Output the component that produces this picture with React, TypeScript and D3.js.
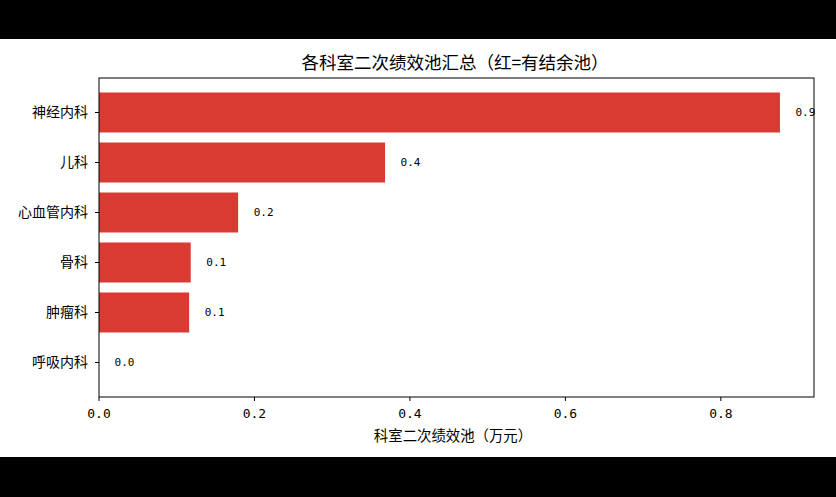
import React from "react";
import * as d3 from "d3";

const departments = ["神经内科", "儿科", "心血管内科", "骨科", "肿瘤科", "呼吸内科"];
const poolValues = [0.876, 0.368, 0.179, 0.118, 0.116, 0.0];
const xTicks = [0, 0.2, 0.4, 0.6, 0.8];
const titleText = "各科室二次绩效池汇总（红=有结余池）";
const xLabelText = "科室二次绩效池（万元）";

const W = 836;
const H = 497;
const FONT = "'Noto Sans CJK SC', 'DejaVu Sans', sans-serif";

export default function App() {
  const left = 99, right = 814, top = 78, bottom = 397;
  const maxV = d3.max(poolValues) as number;
  const x = d3.scaleLinear().domain([0, maxV * 1.05]).range([left, right]);
  const n = departments.length;
  const y = d3.scaleLinear().domain([-0.69, n - 1 + 0.69]).range([top, bottom]);
  const barH = y(0.4) - y(0);
  const offset = x(0.02) - x(0);

  return (
    <div style={{ position: "fixed", left: 0, top: 0, width: W, height: H }}>
      <svg width={W} height={H} style={{ display: "block" }} fontFamily={FONT}>
        <rect x={0} y={0} width={W} height={H} fill="#000" />
        <rect x={0} y={39} width={W} height={418} fill="#fff" />
        <text x={455} y={69} textAnchor="middle" fontSize={17.5} fill="#000">
          {titleText}
        </text>
        {departments.map((d, i) => {
          const v = poolValues[i];
          const cy = y(i);
          return (
            <g key={d}>
              <rect
                x={x(0)}
                y={cy - barH}
                width={Math.max(0, x(v) - x(0))}
                height={barH * 2}
                fill="#d73027"
                fillOpacity={0.95}
              />
              <text x={x(v) + offset} y={cy} dy="0.35em" fontSize={11} fill="#000" fontFamily="'DejaVu Sans Mono', monospace">
                {v.toFixed(1)}
              </text>
              <line x1={left} x2={left - 4} y1={cy} y2={cy} stroke="#000" strokeWidth={1} />
              <text x={left - 11} y={cy} dy="0.35em" textAnchor="end" fontSize={14} fill="#000">
                {d}
              </text>
            </g>
          );
        })}
        {xTicks.map((t) => (
          <g key={t}>
            <line x1={x(t)} x2={x(t)} y1={bottom} y2={bottom + 4} stroke="#000" strokeWidth={1} />
            <text x={x(t)} y={bottom + 21} textAnchor="middle" fontSize={13} fill="#000" fontFamily="'DejaVu Sans Mono', monospace">
              {t.toFixed(1)}
            </text>
          </g>
        ))}
        <rect x={left} y={top} width={right - left} height={bottom - top} fill="none" stroke="#000" strokeWidth={1} />
        <text x={453} y={441} textAnchor="middle" fontSize={14.4} fill="#000">
          {xLabelText}
        </text>
      </svg>
    </div>
  );
}
